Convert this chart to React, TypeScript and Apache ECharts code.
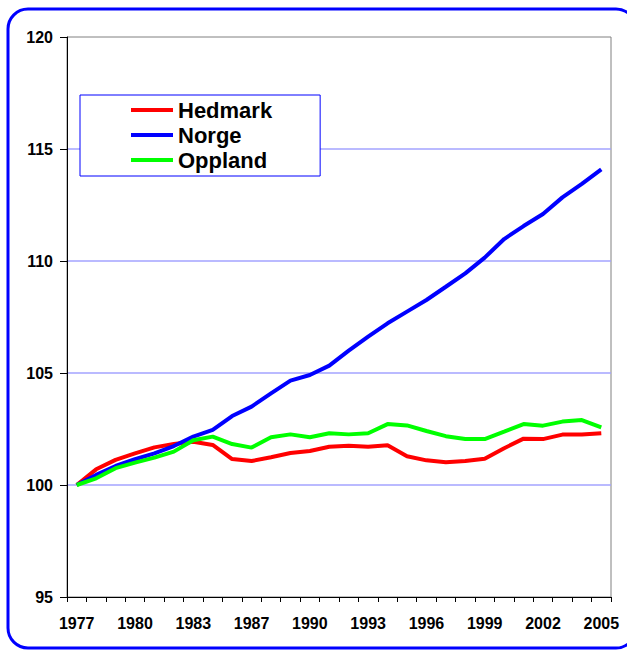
import React, { useEffect, useRef } from "react";
import * as echarts from "echarts";

const years = [
  "1977", "1978", "1979", "1980", "1981", "1982", "1983", "1984", "1985",
  "1987", "1988", "1989", "1990", "1991", "1992", "1993", "1994", "1995",
  "1996", "1997", "1998", "1999", "2000", "2001", "2002", "2003", "2004", "2005",
];

const hedmark = [
  100, 100.7, 101.12, 101.41, 101.68, 101.83, 101.93, 101.79, 101.16, 101.07,
  101.24, 101.43, 101.52, 101.71, 101.75, 101.71, 101.77, 101.28, 101.1, 101.02,
  101.07, 101.17, 101.64, 102.07, 102.05, 102.25, 102.25, 102.31,
];

const norge = [
  100, 100.45, 100.85, 101.15, 101.41, 101.74, 102.16, 102.46, 103.08, 103.5,
  104.09, 104.66, 104.91, 105.33, 106.0, 106.62, 107.22, 107.74, 108.26, 108.85,
  109.45, 110.15, 110.98, 111.56, 112.1, 112.84, 113.44, 114.09,
];

const oppland = [
  100, 100.3, 100.75, 101.0, 101.22, 101.49, 102.0, 102.16, 101.83, 101.67,
  102.13, 102.26, 102.13, 102.31, 102.26, 102.31, 102.72, 102.66, 102.41, 102.18,
  102.05, 102.05, 102.38, 102.72, 102.65, 102.83, 102.9, 102.57,
];

const seriesNames = ["Hedmark", "Norge", "Oppland"];
const seriesColors = ["#ff0000", "#0000ff", "#00ff00"];

export default function App() {
  const ref = useRef<HTMLDivElement>(null);

  useEffect(() => {
    if (!ref.current) return;
    const chart = echarts.init(ref.current, undefined, { renderer: "svg" });
    const font = "Liberation Sans, Arial, sans-serif";
    const data = [hedmark, norge, oppland];
    chart.setOption({
      animation: false,
      backgroundColor: "#ffffff",
      textStyle: { fontFamily: font },
      grid: {
        left: 67,
        right: 16,
        top: 37,
        bottom: 53,
        show: true,
        borderColor: "#808080",
        borderWidth: 1,
        backgroundColor: "transparent",
      },
      legend: {
        left: 80,
        top: 95,
        orient: "vertical",
        data: seriesNames,
        itemWidth: 42,
        itemHeight: 4,
        itemGap: 3,
        padding: [4, 48, 5, 51],
        borderColor: "#0000ff",
        borderWidth: 1,
        backgroundColor: "#ffffff",
        icon: "rect",
        textStyle: {
          fontFamily: font,
          fontSize: 22,
          fontWeight: "bold",
          color: "#000000",
          lineHeight: 21,
        },
      },
      xAxis: {
        type: "category",
        data: years,
        boundaryGap: true,
        axisLine: { show: true, lineStyle: { color: "#000000", width: 1 } },
        axisTick: { show: true, interval: 0, length: 5, lineStyle: { color: "#000000" } },
        axisLabel: {
          interval: 2,
          margin: 18,
          fontFamily: font,
          fontSize: 16,
          fontWeight: "bold",
          color: "#000000",
        },
        splitLine: { show: false },
      },
      yAxis: {
        type: "value",
        min: 95,
        max: 120,
        interval: 5,
        axisLine: { show: true, lineStyle: { color: "#000000", width: 1 } },
        axisTick: { show: true, length: 7, lineStyle: { color: "#000000" } },
        axisLabel: {
          margin: 14,
          fontFamily: font,
          fontSize: 16,
          fontWeight: "bold",
          color: "#000000",
        },
        splitLine: {
          show: true,
          showMinLine: false,
          showMaxLine: false,
          lineStyle: { color: "#a3a3ff", width: 1.5, opacity: 1 },
        },
      },
      series: seriesNames.map((name, i) => ({
        name,
        type: "line",
        data: data[i],
        showSymbol: false,
        symbol: "none",
        lineStyle: { color: seriesColors[i], width: 4 },
        itemStyle: { color: seriesColors[i] },
        z: 2 + i,
      })),
      graphic: [
        {
          type: "rect",
          shape: { x: 8, y: 9, width: 628, height: 639, r: 20 },
          style: { fill: "none", stroke: "#0000ff", lineWidth: 3 },
          silent: true,
          z: 100,
        },
      ],
    });
    return () => chart.dispose();
  }, []);

  return (
    <div
      ref={ref}
      style={{ position: "fixed", left: 0, top: 0, width: 627, height: 650 }}
    />
  );
}
